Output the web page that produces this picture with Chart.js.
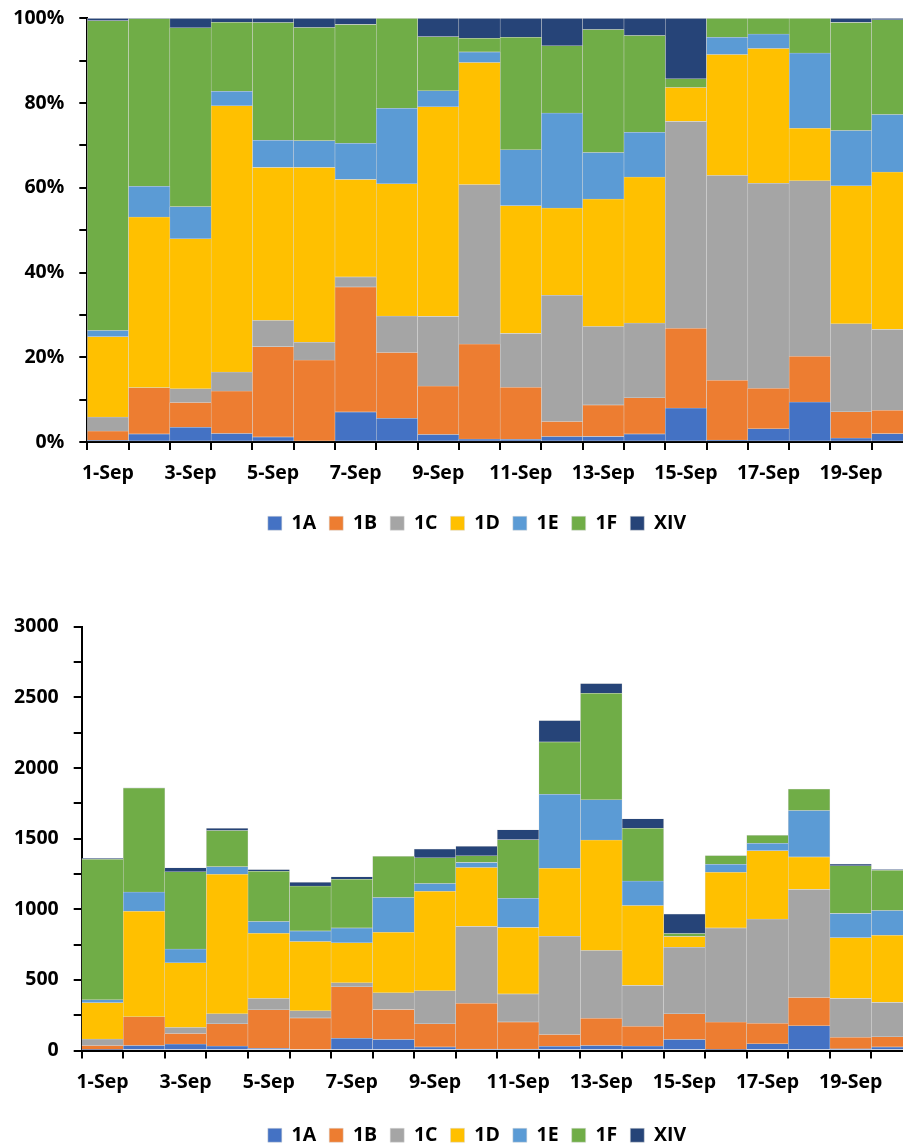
<!DOCTYPE html>
<html>
<head>
<meta charset="utf-8">
<script src="https://cdn.jsdelivr.net/npm/chart.js@4.4.0/dist/chart.umd.min.js"></script>
<style>
  html, body { margin: 0; padding: 0; background: #fff; overflow: hidden; }
  #contenedor { position: relative; width: 903px; height: 1148px; overflow: hidden; }
  #grafico-porcentaje { position: absolute; left: 0; top: 0; }
  #grafico-total { position: absolute; left: 0; top: 574px; }
</style>
</head>
<body>
<div id="contenedor">
  <canvas id="grafico-porcentaje" width="954" height="574"></canvas>
  <canvas id="grafico-total" width="954" height="600"></canvas>
</div>
<script>
const dias = ['1-Sep', '2-Sep', '3-Sep', '4-Sep', '5-Sep', '6-Sep', '7-Sep', '8-Sep', '9-Sep', '10-Sep',
              '11-Sep', '12-Sep', '13-Sep', '14-Sep', '15-Sep', '16-Sep', '17-Sep', '18-Sep', '19-Sep', '20-Sep'];

const serie1A  = [5, 35, 45, 31, 15, 0, 87, 77, 25, 10, 10, 30, 34, 31, 77, 6, 47, 174, 12, 25];
const serie1B  = [30, 203, 75, 158, 273, 230, 363, 213, 163, 324, 192, 82, 193, 140, 182, 195, 146, 200, 82, 71];
const serie1C  = [45, 0, 42, 70, 79, 50, 29, 118, 234, 544, 198, 696, 480, 289, 471, 666, 737, 766, 274, 244];
const serie1D  = [258, 748, 458, 988, 463, 491, 283, 429, 705, 417, 471, 481, 782, 565, 77, 394, 484, 230, 430, 476];
const serie1E  = [20, 135, 98, 54, 82, 75, 105, 245, 54, 36, 206, 524, 285, 174, 0, 56, 52, 328, 172, 174];
const serie1F  = [995, 736, 546, 256, 356, 318, 345, 292, 182, 47, 415, 371, 755, 374, 20, 62, 57, 152, 337, 286];
const serieXIV = [8, 1, 29, 15, 13, 26, 18, 0, 62, 68, 70, 152, 69, 67, 138, 0, 0, 0, 13, 5];

const nombres = ['1A', '1B', '1C', '1D', '1E', '1F', 'XIV'];
const series = [serie1A, serie1B, serie1C, serie1D, serie1E, serie1F, serieXIV];
const colores = ['#4472C4', '#ED7D31', '#A5A5A5', '#FFC000', '#5B9BD5', '#70AD47', '#264478'];

Chart.defaults.font.family = "'Open Sans', sans-serif";
Chart.defaults.font.size = 19.5;
Chart.defaults.font.weight = 'bold';
Chart.defaults.color = '#000';

// total por dia, para el grafico al 100%
const totales = dias.map((d, i) => series.reduce((suma, s) => suma + s[i], 0));

function armarDatasets(porcentaje) {
  return nombres.map((nombre, k) => ({
    label: nombre,
    data: series[k].map((v, i) => porcentaje ? v * 100 / totales[i] : v),
    backgroundColor: colores[k],
    borderColor: '#d9d9d9',
    borderWidth: 0.5,
    borderSkipped: false,
    barPercentage: 1,
    categoryPercentage: 1
  }));
}

function crearGrafico(id, porcentaje, cfg) {
  return new Chart(document.getElementById(id), {
    type: 'bar',
    data: { labels: dias, datasets: armarDatasets(porcentaje) },
    options: {
      responsive: false,
      animation: false,
      devicePixelRatio: 1,
      layout: { padding: { left: 0, right: 0, top: cfg.arriba, bottom: cfg.abajo } },
      plugins: {
        legend: { position: 'bottom', labels: { boxWidth: 14, boxHeight: 14, padding: 13, borderWidth: 0 } },
        tooltip: { enabled: false }
      },
      scales: {
        x: {
          stacked: true,
          offset: true,
          grid: { offset: true, drawOnChartArea: false, color: '#000', lineWidth: 2, tickLength: 8 },
          border: { color: '#000', width: 2 },
          ticks: { autoSkip: false, maxRotation: 0, padding: 12, callback: (v, i) => i % 2 === 0 ? dias[i] : '' },
          afterFit: (eje) => { eje.height = cfg.altoX; }
        },
        y: {
          stacked: true,
          min: 0,
          max: cfg.max,
          grid: { drawOnChartArea: false, color: '#000', lineWidth: 2, tickLength: 8 },
          border: { color: '#000', width: 2 },
          ticks: { stepSize: cfg.paso, padding: 15, callback: cfg.etiqueta },
          afterFit: (eje) => {
            eje.width = cfg.anchoY;
            eje.paddingTop = 0;
            eje.paddingBottom = 0;
          }
        },
        // eje vacio a la derecha: deja el area del grafico donde la tiene el original
        derecha: {
          position: 'right',
          grid: { display: false },
          border: { display: false },
          ticks: { display: false },
          afterFit: (eje) => { eje.width = 41; }
        }
      }
    }
  });
}

crearGrafico('grafico-porcentaje', true, {
  arriba: 18.3, abajo: 31, altoX: 58.5, anchoY: 87.3, max: 100, paso: 10,
  etiqueta: (v) => v % 20 === 0 ? v + '%' : ''
});

crearGrafico('grafico-total', false, {
  arriba: 52.7, abajo: 19, altoX: 62, anchoY: 81.7, max: 3000, paso: 250,
  etiqueta: (v) => v % 500 === 0 ? v : ''
});
</script>
</body>
</html>
